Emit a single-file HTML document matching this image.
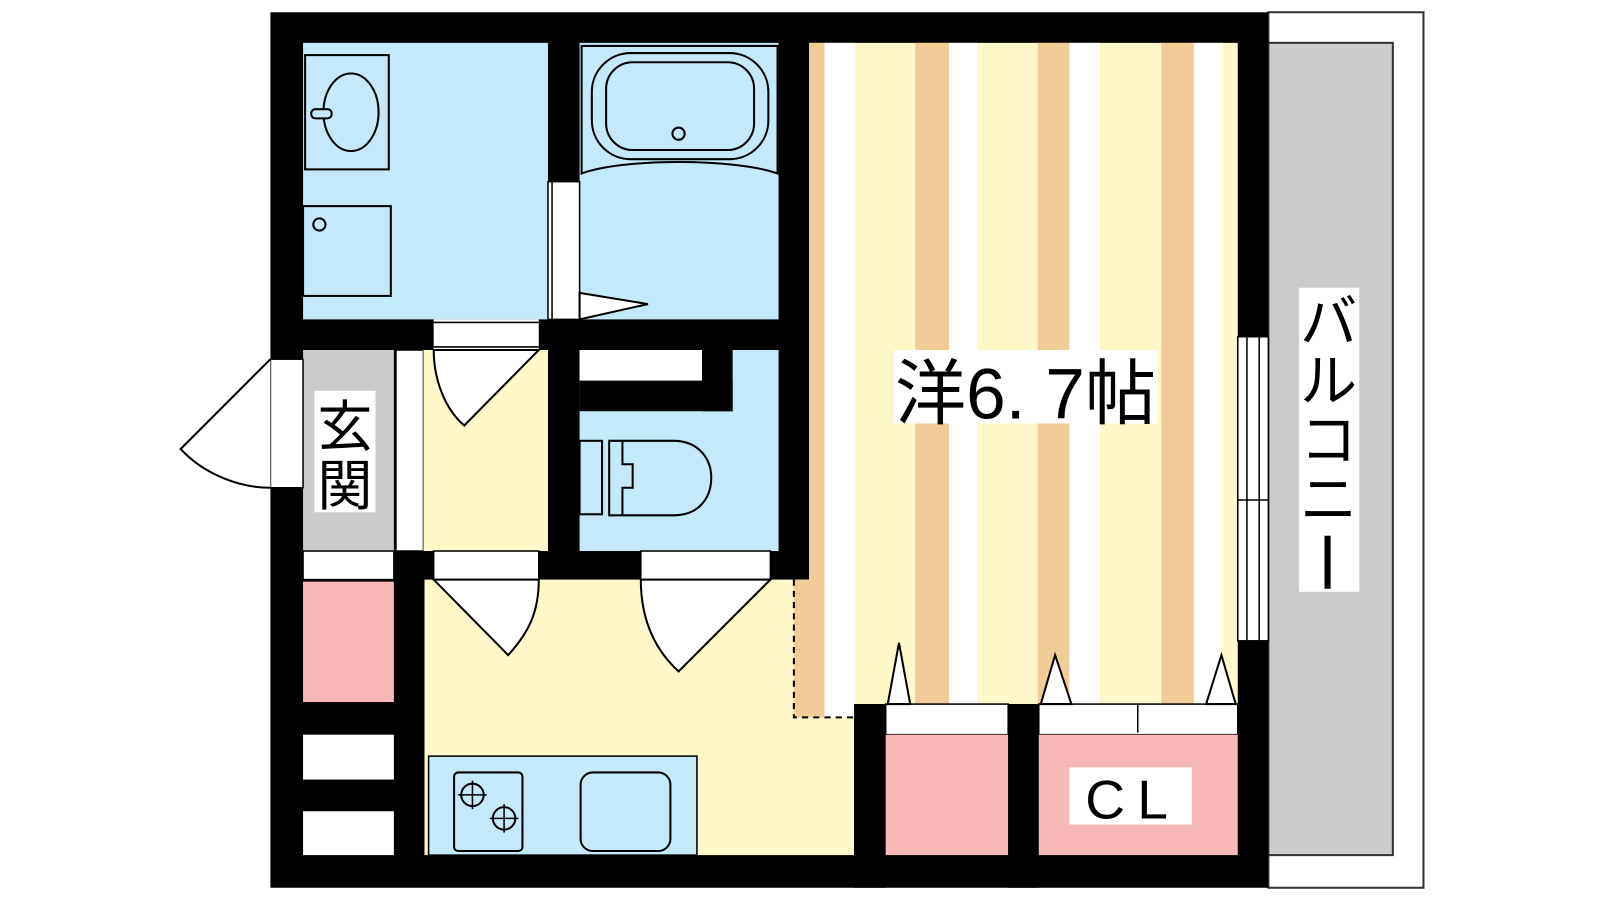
<!DOCTYPE html>
<html><head><meta charset="utf-8"><style>
html,body{margin:0;padding:0;background:#fff;width:1600px;height:900px;overflow:hidden}
svg{display:block}
text{font-family:"Liberation Sans","Noto Sans CJK JP",sans-serif;fill:#000}
</style></head><body>
<svg width="1600" height="900" viewBox="0 0 1568 882" preserveAspectRatio="none" xmlns="http://www.w3.org/2000/svg">
<rect x="1243" y="12" width="152" height="858" fill="#fff" stroke="#333" stroke-width="2"/>
<rect x="1243" y="42" width="122" height="796" fill="#ccc" stroke="#333" stroke-width="2"/>
<rect x="265" y="12" width="978" height="858" fill="#000"/>
<rect x="416" y="568" width="421" height="270" fill="#fff8c8"/>
<rect x="793" y="42" width="420" height="648" fill="#fff8c8"/>
<rect x="778" y="568" width="30" height="135" fill="#f0cc96"/>
<rect x="793" y="42" width="15" height="648" fill="#f0cc96"/>
<rect x="808" y="42" width="30" height="661" fill="#fff"/>
<rect x="897" y="42" width="33" height="648" fill="#f0cc96"/>
<rect x="930" y="42" width="28" height="648" fill="#fff"/>
<rect x="1017" y="42" width="31" height="648" fill="#f0cc96"/>
<rect x="1048" y="42" width="30" height="648" fill="#fff"/>
<rect x="1138" y="42" width="32" height="648" fill="#f0cc96"/>
<rect x="1170" y="42" width="28" height="648" fill="#fff"/>
<rect x="837" y="690" width="31" height="180" fill="#000"/>
<path d="M778 568 V703 H837" fill="none" stroke="#000" stroke-width="2" stroke-dasharray="6 5"/>
<rect x="297" y="42" width="240" height="271" fill="#c4e9f8"/>
<rect x="568" y="42" width="195" height="271" fill="#c4e9f8"/>
<rect x="537" y="178" width="31" height="135" fill="#fff" stroke="#000" stroke-width="1.5"/>
<line x1="541" y1="178" x2="541" y2="313" stroke="#000" stroke-width="1.5"/>
<path d="M568 287 L635 298 L568 313 Z" fill="#fff" stroke="#000" stroke-width="2"/>
<rect x="299" y="54" width="82" height="112" fill="none" stroke="#000" stroke-width="2"/>
<ellipse cx="344" cy="110" rx="27" ry="38" fill="none" stroke="#000" stroke-width="2"/>
<rect x="305" y="107" width="20" height="9" rx="4" fill="#c4e9f8" stroke="#000" stroke-width="2"/>
<rect x="297" y="202" width="86" height="88" fill="none" stroke="#000" stroke-width="2"/>
<circle cx="313" cy="220" r="6" fill="none" stroke="#000" stroke-width="2"/>
<path d="M570 45 H762 V170 C720 155 610 155 570 170 Z" fill="none" stroke="#000" stroke-width="2"/>
<rect x="580" y="52" width="173" height="104" rx="38" fill="none" stroke="#000" stroke-width="2"/>
<rect x="594" y="61" width="145" height="86" rx="26" fill="none" stroke="#000" stroke-width="2"/>
<circle cx="665" cy="131" r="6" fill="none" stroke="#000" stroke-width="2"/>
<rect x="425" y="313" width="103" height="30" fill="#fff"/>
<line x1="425" y1="316" x2="528" y2="316" stroke="#000" stroke-width="1.5"/>
<line x1="425" y1="340" x2="528" y2="340" stroke="#000" stroke-width="1.5"/>
<rect x="297" y="343" width="89" height="197" fill="#ccc"/>
<rect x="388" y="343" width="27" height="197" fill="#fff" stroke="#000" stroke-width="1.5"/>
<rect x="415" y="343" width="122" height="197" fill="#fff8c8"/>
<path d="M425 343 C425 370 435 400 455 417 L528 343 Z" fill="#fff" stroke="#000" stroke-width="2"/>
<rect x="308" y="383" width="60" height="119" fill="#fff"/>
<text x="338" y="437" font-size="54" text-anchor="middle">玄</text>
<text x="338" y="495" font-size="54" text-anchor="middle">関</text>
<rect x="265" y="352" width="32" height="126" fill="#fff" stroke="#000" stroke-width="1.5"/>
<path d="M265 352 L177 440 C200 465 235 478 265 478" fill="#fff" stroke="#000" stroke-width="2"/>
<rect x="568" y="343" width="195" height="197" fill="#c4e9f8"/>
<rect x="568" y="343" width="120" height="30" fill="#fff"/>
<rect x="688" y="343" width="30" height="60" fill="#000"/>
<rect x="568" y="373" width="150" height="30" fill="#000"/>
<rect x="568" y="432" width="22" height="72" fill="none" stroke="#000" stroke-width="2"/>
<path d="M597 432 H660 C685 432 697 450 697 468 C697 488 685 505 660 505 H597 Z" fill="none" stroke="#000" stroke-width="2"/>
<path d="M610 432 V455 H620 V478 H610 V505" fill="none" stroke="#000" stroke-width="2"/>
<rect x="297" y="540" width="89" height="28" fill="#fff" stroke="#000" stroke-width="1.5"/>
<rect x="425" y="540" width="103" height="28" fill="#fff" stroke="#000" stroke-width="1.5"/>
<rect x="628" y="540" width="127" height="28" fill="#fff" stroke="#000" stroke-width="1.5"/>
<path d="M425 568 L498 642 C518 620 528 600 528 568 Z" fill="#fff" stroke="#000" stroke-width="2"/>
<path d="M628 568 C628 605 640 635 665 658 L755 568 Z" fill="#fff" stroke="#000" stroke-width="2"/>
<rect x="297" y="570" width="89" height="118" fill="#f8b8b8"/>
<rect x="297" y="720" width="89" height="44" fill="#fff"/>
<rect x="297" y="795" width="89" height="43" fill="#fff"/>
<rect x="420" y="741" width="263" height="97" fill="#c4e9f8" stroke="#000" stroke-width="1.5"/>
<rect x="445" y="757" width="67" height="77" rx="4" fill="none" stroke="#000" stroke-width="2"/>
<circle cx="463" cy="779" r="11" fill="none" stroke="#000" stroke-width="2"/>
<circle cx="494" cy="802" r="11" fill="none" stroke="#000" stroke-width="2"/>
<path d="M449 779h28M463 765v28M480 802h28M494 788v28" stroke="#000" stroke-width="1.5"/>
<rect x="569" y="757" width="88" height="77" rx="12" fill="none" stroke="#000" stroke-width="2"/>
<rect x="868" y="690" width="120" height="30" fill="#fff" stroke="#000" stroke-width="1.5"/>
<rect x="868" y="720" width="120" height="118" fill="#f8b8b8"/>
<rect x="988" y="690" width="30" height="180" fill="#000"/>
<rect x="1018" y="690" width="195" height="30" fill="#fff" stroke="#000" stroke-width="1.5"/>
<line x1="1115" y1="690" x2="1115" y2="718" stroke="#000" stroke-width="1.5"/>
<rect x="1018" y="720" width="195" height="118" fill="#f8b8b8"/>
<path d="M870 690 L881 630 L892 690 Z" fill="#fff" stroke="#000" stroke-width="2"/>
<path d="M1020 690 L1034 642 L1050 690 Z" fill="#fff" stroke="#000" stroke-width="2"/>
<path d="M1182 690 L1197 642 L1211 690 Z" fill="#fff" stroke="#000" stroke-width="2"/>
<rect x="1048" y="752" width="120" height="56" fill="#fff"/>
<text x="1110" y="802" font-size="54" text-anchor="middle" letter-spacing="12">CL</text>
<rect x="1213" y="330" width="30" height="298" fill="#fff" stroke="#000" stroke-width="1.5"/>
<line x1="1222" y1="330" x2="1222" y2="628" stroke="#000" stroke-width="1.5"/>
<line x1="1234" y1="330" x2="1234" y2="628" stroke="#000" stroke-width="1.5"/>
<line x1="1213" y1="490" x2="1243" y2="490" stroke="#000" stroke-width="1.5"/>
<rect x="876" y="343" width="259" height="72" fill="#fff"/>
<text x="877" y="410" font-size="70" textLength="256" lengthAdjust="spacingAndGlyphs">洋6. 7帖</text>
<rect x="1273" y="282" width="59" height="298" fill="#fff"/>
<text x="1302" y="335" font-size="56" text-anchor="middle">バ</text>
<text x="1302" y="393" font-size="56" text-anchor="middle">ル</text>
<text x="1302" y="451" font-size="56" text-anchor="middle">コ</text>
<text x="1302" y="509" font-size="56" text-anchor="middle">ニ</text>
<rect x="1298" y="525" width="6" height="52" fill="#000"/>
</svg>
</body></html>
